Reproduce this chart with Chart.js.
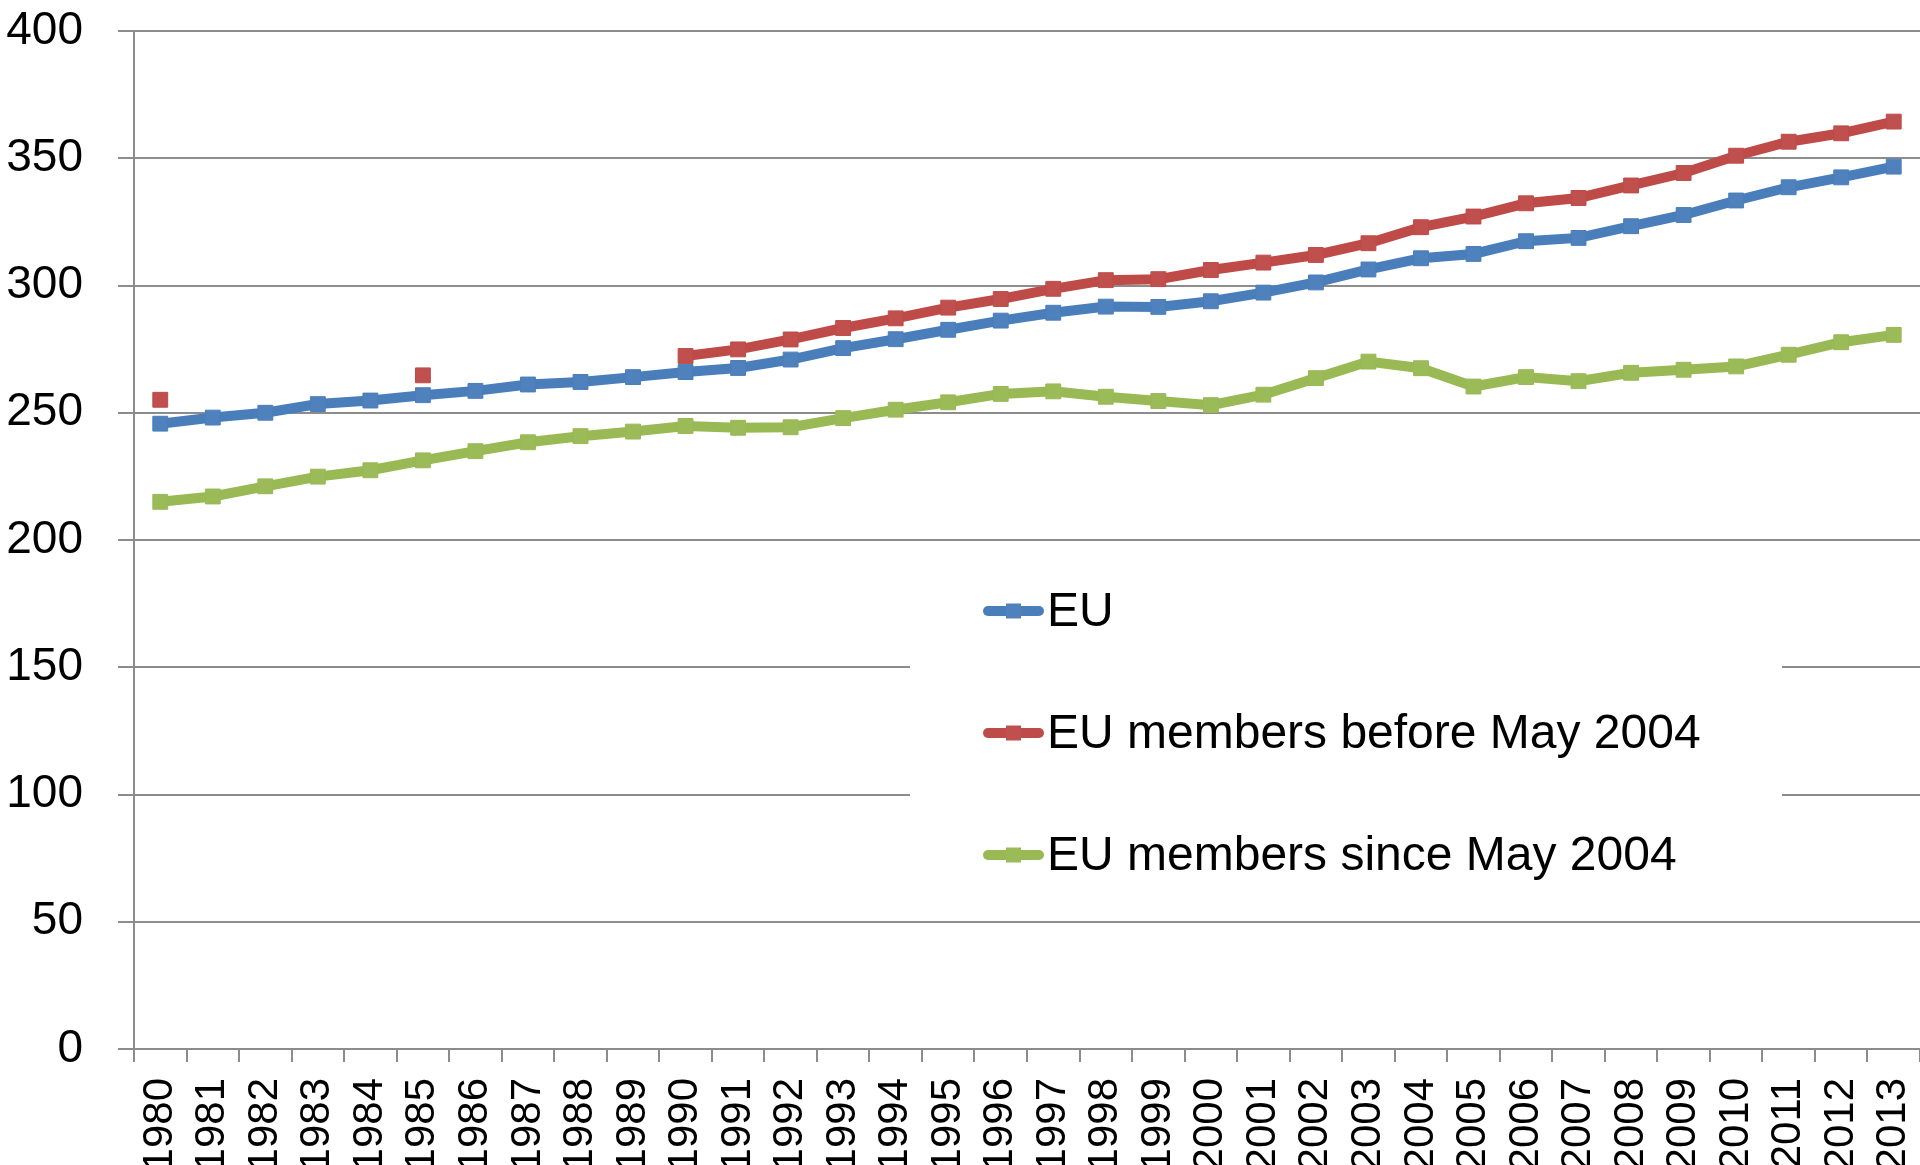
<!DOCTYPE html>
<html>
<head>
<meta charset="utf-8">
<title>EU</title>
<script src="https://cdn.jsdelivr.net/npm/chart.js@4.4.1/dist/chart.umd.min.js"></script>
<style>
  body { margin: 0; background: #ffffff; }
  #chart { display: block; }
</style>
</head>
<body>
<canvas id="chart" width="1920" height="1165"></canvas>
<script>
const years = [
  "1980", "1981", "1982", "1983", "1984", "1985", "1986", "1987", "1988", "1989",
  "1990", "1991", "1992", "1993", "1994", "1995", "1996", "1997", "1998", "1999",
  "2000", "2001", "2002", "2003", "2004", "2005", "2006", "2007", "2008", "2009",
  "2010", "2011", "2012", "2013",
];

const euValues = [
  245.7, 248.1, 250.0, 253.4, 254.8, 256.9, 258.6, 261.1, 262.1, 264.0,
  266.0, 267.6, 270.9, 275.4, 278.9, 282.6, 286.2, 289.3, 291.7, 291.6,
  293.8, 297.2, 301.2, 306.3, 310.7, 312.4, 317.4, 318.7, 323.3, 327.7,
  333.4, 338.6, 342.5, 346.7,
];

// only 1980 and 1985 exist before 1990
const oldMemberValues = [
  255.1, null, null, null, null, 264.7, null, null, null, null,
  272.3, 274.9, 278.8, 283.3, 287.1, 291.3, 294.7, 298.7, 302.1, 302.5,
  306.1, 309.0, 312.0, 316.6, 322.9, 327.1, 332.3, 334.4, 339.3, 344.2,
  351.0, 356.5, 359.8, 364.4,
];

const newMemberValues = [
  215.0, 217.1, 221.1, 224.9, 227.4, 231.3, 234.9, 238.4, 240.8, 242.6,
  244.8, 244.1, 244.3, 247.9, 251.2, 254.1, 257.4, 258.4, 256.3, 254.6,
  253.0, 257.1, 263.6, 270.1, 267.5, 260.3, 264.0, 262.4, 265.7, 266.9,
  268.2, 272.8, 277.7, 280.6,
];

const seriesNames = ["EU", "EU members before May 2004", "EU members since May 2004"];
const yTicks = [0, 50, 100, 150, 200, 250, 300, 350, 400];

const lineColors = ["#4a7ebb", "#be4b48", "#98b954"];
const markerColors = ["#4f81bd", "#c0504d", "#9bbb59"];
const gridColor = "#8c8c8c";

function makeDataset(i, values) {
  return {
    label: seriesNames[i],
    data: values,
    borderColor: lineColors[i],
    borderWidth: 10,
    pointStyle: "rect",
    pointRadius: 10.5,
    pointBackgroundColor: markerColors[i],
    pointBorderColor: lineColors[i],
    pointBorderWidth: 1,
    tension: 0,
    spanGaps: false,
    fill: false,
    order: i,
  };
}

// legend box sits inside the plot, covering the grid lines
const boxLegend = {
  id: "boxLegend",
  afterDraw(chart) {
    const ctx = chart.ctx;
    ctx.save();
    ctx.fillStyle = "#ffffff";
    ctx.fillRect(910, 547, 872, 366);
    chart.data.datasets.forEach((ds, i) => {
      const y = 611 + i * 122;
      ctx.strokeStyle = ds.borderColor;
      ctx.lineWidth = 10;
      ctx.lineCap = "round";
      ctx.beginPath();
      ctx.moveTo(988, y);
      ctx.lineTo(1039, y);
      ctx.stroke();
      ctx.fillStyle = ds.pointBackgroundColor;
      ctx.fillRect(1006, y - 7.5, 15, 15);
      ctx.fillStyle = "#000000";
      ctx.font = "48px 'Liberation Sans', Arial, sans-serif";
      ctx.textAlign = "left";
      ctx.textBaseline = "middle";
      ctx.fillText(ds.label, 1047, y + 2);
    });
    ctx.restore();
  },
};

function renderChart() {
  const ctx = document.getElementById("chart").getContext("2d");
  new Chart(ctx, {
    type: "line",
    data: {
      labels: years,
      datasets: [
        makeDataset(0, euValues),
        makeDataset(1, oldMemberValues),
        makeDataset(2, newMemberValues),
      ],
    },
    options: {
      responsive: false,
      animation: false,
      devicePixelRatio: 1,
      layout: { autoPadding: false, padding: { top: 31, right: 0, left: 0, bottom: 0 } },
      plugins: {
        legend: { display: false },
        tooltip: { enabled: false },
      },
      scales: {
        x: {
          offset: true,
          grid: {
            offset: true,
            drawOnChartArea: false,
            drawTicks: true,
            tickLength: 13,
            color: gridColor,
            lineWidth: 2,
          },
          border: { color: gridColor, width: 2 },
          ticks: {
            color: "#000000",
            minRotation: 90,
            maxRotation: 90,
            autoSkip: false,
            padding: 16,
            font: { family: "'Liberation Sans', Arial, sans-serif", size: 42 },
          },
          afterFit: (scale) => {
            scale.height = 116;
            scale.paddingLeft = 0;
            scale.paddingRight = 0;
          },
        },
        y: {
          min: 0,
          max: 400,
          afterBuildTicks: (scale) => {
            scale.ticks = yTicks.map((v) => ({ value: v }));
          },
          grid: {
            color: gridColor,
            lineWidth: 2,
            drawTicks: true,
            tickLength: 16,
          },
          border: { color: gridColor, width: 2 },
          ticks: {
            color: "#000000",
            padding: 35,
            font: { family: "'Liberation Sans', Arial, sans-serif", size: 46 },
          },
          afterFit: (scale) => {
            scale.width = 134;
            scale.paddingTop = 0;
            scale.paddingBottom = 0;
          },
        },
      },
    },
    plugins: [boxLegend],
  });
}

renderChart();
</script>
</body>
</html>
